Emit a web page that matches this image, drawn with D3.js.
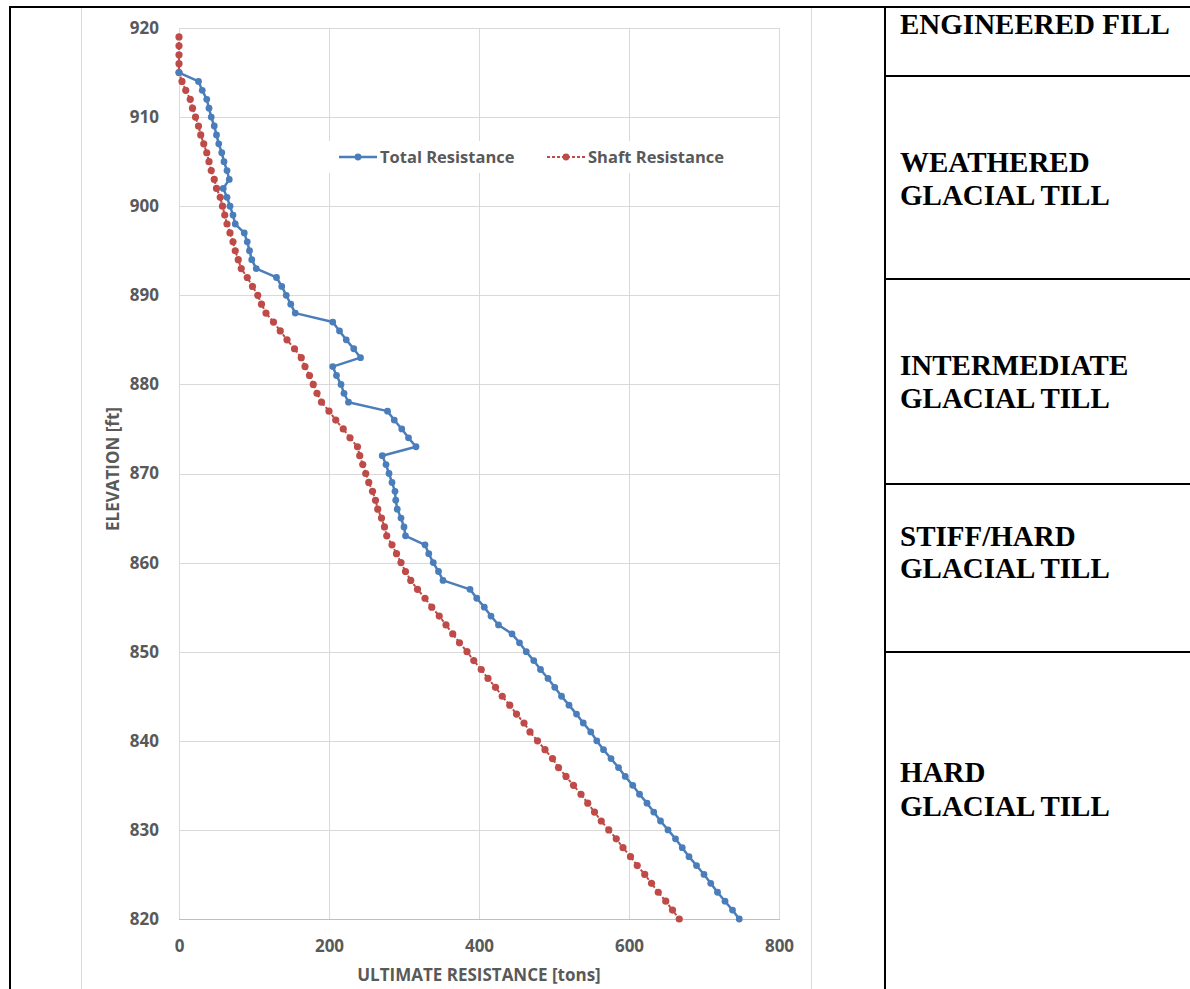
<!DOCTYPE html>
<html>
<head>
<meta charset="utf-8">
<script src="https://cdn.jsdelivr.net/npm/d3@7"></script>
<style>
  body { margin: 0; background: #fff; }
  svg { display: block; }
</style>
</head>
<body>
<div id="chart"></div>
<script>
// elevations [ft], top of shaft downwards
var elevation = [919, 918, 917, 916, 915, 914, 913, 912, 911, 910,
                 909, 908, 907, 906, 905, 904, 903, 902, 901, 900,
                 899, 898, 897, 896, 895, 894, 893, 892, 891, 890,
                 889, 888, 887, 886, 885, 884, 883, 882, 881, 880,
                 879, 878, 877, 876, 875, 874, 873, 872, 871, 870,
                 869, 868, 867, 866, 865, 864, 863, 862, 861, 860,
                 859, 858, 857, 856, 855, 854, 853, 852, 851, 850,
                 849, 848, 847, 846, 845, 844, 843, 842, 841, 840,
                 839, 838, 837, 836, 835, 834, 833, 832, 831, 830,
                 829, 828, 827, 826, 825, 824, 823, 822, 821, 820];

// total resistance [tons] (no value above 915 ft)
var totalRes = [null, null, null, null, 0, 26, 31, 37, 40, 43,
                47, 50, 53, 57, 60, 64, 67, 59, 64, 68,
                72, 75, 87, 91, 94, 97, 103, 130, 137, 143,
                149, 155, 205, 214, 223, 233, 242, 205, 210, 216,
                220, 226, 278, 287, 297, 306, 316, 271, 276, 280,
                284, 288, 289, 291, 296, 300, 302, 328, 333, 339,
                346, 352, 388, 397, 407, 416, 426, 444, 454, 463,
                473, 482, 492, 501, 510, 520, 530, 539, 549, 557,
                566, 576, 586, 595, 605, 614, 624, 633, 642, 652,
                662, 671, 680, 690, 700, 709, 718, 728, 738, 747];

// shaft resistance [tons]
var shaftRes = [0, 0, 0, 0, 0, 4, 9, 15, 18, 22,
                26, 29, 33, 37, 40, 43, 47, 50, 55, 58,
                61, 64, 68, 72, 75, 79, 83, 91, 98, 105,
                110, 116, 126, 135, 144, 154, 163, 168, 174, 179,
                184, 190, 200, 209, 219, 228, 238, 241, 245, 249,
                253, 258, 262, 265, 270, 274, 277, 284, 290, 296,
                302, 309, 318, 328, 337, 347, 356, 365, 374, 384,
                393, 403, 412, 422, 431, 441, 450, 460, 468, 478,
                488, 498, 506, 516, 526, 536, 545, 554, 563, 573,
                583, 592, 602, 611, 621, 630, 639, 649, 658, 667];

var xTicks = [0, 200, 400, 600, 800];
var yTicks = [820, 830, 840, 850, 860, 870, 880, 890, 900, 910, 920];

var seriesNames = ["Total Resistance", "Shaft Resistance"];
var layers = [
  {lines: ["ENGINEERED FILL"], top: 7},
  {lines: ["WEATHERED", "GLACIAL TILL"], top: 76},
  {lines: ["INTERMEDIATE", "GLACIAL TILL"], top: 279},
  {lines: ["STIFF/HARD", "GLACIAL TILL"], top: 484},
  {lines: ["HARD", "GLACIAL TILL"], top: 652}
];

var width = 1190,
    height = 989;

var svg = d3.select("#chart")
            .append("svg")
            .attr("width", width)
            .attr("height", height);

svg.append("rect").attr("width", width).attr("height", height).attr("fill", "#fff");

// chart area frame
svg.append("line").attr("x1", 81.5).attr("x2", 81.5).attr("y1", 8).attr("y2", height)
   .attr("stroke", "#d9d9d9");
svg.append("line").attr("x1", 811.5).attr("x2", 811.5).attr("y1", 8).attr("y2", height)
   .attr("stroke", "#d9d9d9");

var plot = {left: 179, right: 779, top: 28, bottom: 919};

var x = d3.scaleLinear().domain([0, 800]).range([plot.left, plot.right]);
var y = d3.scaleLinear().domain([820, 920]).range([plot.bottom, plot.top]);

// gridlines
svg.append("g")
   .selectAll("line")
   .data(yTicks.filter(d => d !== 820))
   .enter()
   .append("line")
   .attr("x1", plot.left).attr("x2", plot.right)
   .attr("y1", d => Math.round(y(d)) + 0.5).attr("y2", d => Math.round(y(d)) + 0.5)
   .attr("stroke", "#d9d9d9");

svg.append("g")
   .selectAll("line")
   .data(xTicks)
   .enter()
   .append("line")
   .attr("x1", d => Math.round(x(d)) + 0.5).attr("x2", d => Math.round(x(d)) + 0.5)
   .attr("y1", plot.top).attr("y2", plot.bottom)
   .attr("stroke", "#d9d9d9");

// bottom axis line
svg.append("line")
   .attr("x1", plot.left).attr("x2", plot.right + 1)
   .attr("y1", plot.bottom + 0.5).attr("y2", plot.bottom + 0.5)
   .attr("stroke", "#bfbfbf");

var labelFont = "'Open Sans', Lato, sans-serif";

var yAxis = svg.append("g")
   .attr("transform", "translate(" + plot.left + ",0)")
   .call(d3.axisLeft(y).tickValues(yTicks).tickSize(0).tickPadding(20));
var xAxis = svg.append("g")
   .attr("transform", "translate(0," + plot.bottom + ")")
   .call(d3.axisBottom(x).tickValues(xTicks).tickSize(0).tickPadding(21));

[xAxis, yAxis].forEach(function (g) {
  g.select(".domain").remove();
  g.selectAll("text")
   .attr("font-family", labelFont)
   .attr("font-weight", "bold")
   .attr("font-size", "17px")
   .attr("fill", "#595959");
});

svg.append("text")
   .text("ULTIMATE RESISTANCE [tons]")
   .attr("x", x(400)).attr("y", 981)
   .attr("text-anchor", "middle")
   .attr("font-family", labelFont).attr("font-weight", "bold").attr("font-size", "17px")
   .attr("fill", "#595959");

svg.append("text")
   .text("ELEVATION [ft]")
   .attr("transform", "translate(119," + y(870.5) + ") rotate(-90)")
   .attr("text-anchor", "middle")
   .attr("font-family", labelFont).attr("font-weight", "bold").attr("font-size", "17px")
   .attr("fill", "#595959");

// series
var rows = elevation.map((e, i) => ({e: e, total: totalRes[i], shaft: shaftRes[i]}));
var blue = "#4a7ebb", red = "#be4b48";

var shaftLine = d3.line().x(d => x(d.shaft)).y(d => y(d.e));
svg.append("path")
   .datum(rows)
   .attr("d", shaftLine)
   .attr("fill", "none")
   .attr("stroke", red)
   .attr("stroke-width", 2)
   .attr("stroke-dasharray", "3,2");
svg.append("g")
   .selectAll("circle")
   .data(rows)
   .enter()
   .append("circle")
   .attr("cx", d => x(d.shaft)).attr("cy", d => y(d.e))
   .attr("r", 3.6)
   .attr("fill", red);

var totalRows = rows.filter(d => d.total !== null);
var totalLine = d3.line().x(d => x(d.total)).y(d => y(d.e));
svg.append("path")
   .datum(totalRows)
   .attr("d", totalLine)
   .attr("fill", "none")
   .attr("stroke", blue)
   .attr("stroke-width", 2.5)
   .attr("stroke-linejoin", "round");
svg.append("g")
   .selectAll("circle")
   .data(totalRows)
   .enter()
   .append("circle")
   .attr("cx", d => x(d.total)).attr("cy", d => y(d.e))
   .attr("r", 3.4)
   .attr("fill", blue);

// legend
var legend = svg.append("g");
legend.append("rect")
   .attr("x", 326).attr("y", 141).attr("width", 412).attr("height", 32)
   .attr("fill", "#fff");
var legendItems = [
  {name: seriesNames[0], color: blue, x0: 339, dash: null, w: 2.5},
  {name: seriesNames[1], color: red, x0: 547, dash: "3,2", w: 2}
];
legendItems.forEach(function (d) {
  legend.append("line")
     .attr("x1", d.x0).attr("x2", d.x0 + 38)
     .attr("y1", 157).attr("y2", 157)
     .attr("stroke", d.color).attr("stroke-width", d.w)
     .attr("stroke-dasharray", d.dash);
  legend.append("circle")
     .attr("cx", d.x0 + 19).attr("cy", 157).attr("r", 3.4)
     .attr("fill", d.color);
  legend.append("text")
     .text(d.name)
     .attr("x", d.x0 + 41).attr("y", 163)
     .attr("font-family", labelFont).attr("font-weight", "bold").attr("font-size", "16.5px")
     .attr("fill", "#595959");
});

// outer frame and soil layer column
var black = svg.append("g").attr("stroke", "#000").attr("stroke-width", 2);
black.append("line").attr("x1", 9).attr("x2", width).attr("y1", 7).attr("y2", 7);
black.append("line").attr("x1", 10).attr("x2", 10).attr("y1", 7).attr("y2", height);
black.append("line").attr("x1", 885).attr("x2", 885).attr("y1", 7).attr("y2", height);
black.selectAll("line.layer")
   .data(layers.slice(1))
   .enter()
   .append("line")
   .attr("x1", 885).attr("x2", width)
   .attr("y1", d => d.top).attr("y2", d => d.top);

var baselines = [[34], [172, 205], [375, 408], [546, 578], [782, 816]];
layers.forEach(function (d, i) {
  d.lines.forEach(function (t, j) {
    svg.append("text")
       .text(t)
       .attr("x", 900).attr("y", baselines[i][j])
       .attr("font-family", "'Liberation Serif', 'Times New Roman', serif")
       .attr("font-weight", "bold")
       .attr("font-size", "29px")
       .attr("fill", "#000");
  });
});
</script>
</body>
</html>
